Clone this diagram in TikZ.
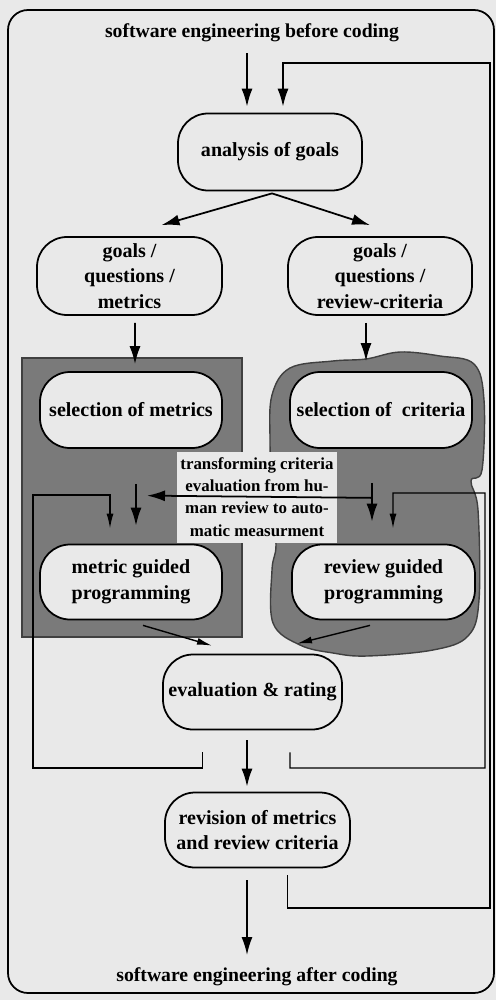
\documentclass[tikz,border=0pt]{standalone}
\usepackage{fontspec}
\setmainfont{Liberation Serif}
\usetikzlibrary{arrows.meta}
\definecolor{paper}{RGB}{233,233,233}

\begin{document}
\begin{tikzpicture}[
		x=0.2mm, y=-0.2mm,
		box/.style={rectangle, draw, line width=1pt, rounded corners=0.6cm, fill=paper, align=center, inner sep=2pt, font=\bfseries\fontsize{11.4}{14.6}\selectfont},
		plain/.style={align=center, font=\bfseries\fontsize{11.2}{14}\selectfont},
		note/.style={rectangle, fill=paper, align=center, inner sep=2pt, font=\bfseries\fontsize{9.6}{12.6}\selectfont},
		arr/.style={-{Latex[length=3.6mm,width=2.2mm]}, line width=1pt},
		thinarr/.style={-{Latex[length=3mm,width=1.4mm]}, line width=0.8pt},
		shade/.style={fill=black!52, draw=black!75, line width=0.8pt}
		]
		\useasboundingbox[fill=paper] (0,0) rectangle (496,1000);
		% outer frame
		\draw[line width=1pt, rounded corners=0.4cm] (8,10) rectangle (494,993);
		% dark zones behind the two branches
		\draw[shade] (22,358) rectangle (242,637);
		\draw[shade] plot[smooth cycle, tension=0.6] coordinates {(290,368) (333,361) (366,359) (400,352) (440,356) (474,364) (484,400) (482,470) (471,481) (478,510) (479,600) (468,636) (433,650) (367,656) (333,653) (300,645) (273,623) (272,570) (276,545) (272,500) (270,440) (272,395)};
		
		% Nodes
		\node[plain] (before) at (252,33) {software engineering before coding};
		\node[box, minimum width=3.68cm, minimum height=1.54cm] (analysis) at (270,152) {analysis of goals};
		\node[box, minimum width=3.7cm, minimum height=1.56cm] (gqm) at (129.5,276) {goals /\\questions /\\metrics};
		\node[box, minimum width=3.68cm, minimum height=1.56cm] (gqr) at (380,276) {goals /\\questions /\\review-criteria};
		\node[box, minimum width=3.64cm, minimum height=1.52cm] (selm) at (131,410) {selection of metrics};
		\node[box, minimum width=3.64cm, minimum height=1.52cm] (selc) at (381,410) {selection of~ criteria};
		\node[note, minimum width=3.18cm, minimum height=1.82cm] (trans) at (257,497) {transforming criteria\\evaluation from hu-\\man review to auto-\\matic measurment};
		\node[box, minimum width=3.64cm, minimum height=1.5cm] (mgp) at (131,582) {metric guided\\programming};
		\node[box, minimum width=3.66cm, minimum height=1.5cm] (rgp) at (383.5,582) {review guided\\programming};
		\node[box, minimum width=3.58cm, minimum height=1.5cm] (eval) at (252.5,692) {evaluation \& rating};
		\node[box, minimum width=3.7cm, minimum height=1.5cm] (rev) at (257.5,830) {revision of metrics\\and review criteria};
		\node[plain] (after) at (257,977) {software engineering after coding};
		
		% main flow
		\draw[arr] ([shift={(-5,20)}]before.center) -- ([shift={(-23,-6)}]analysis.north);
		\draw[arr] ([shift={(2,2)}]analysis.south) -- ([shift={(32,-11)}]gqm.north);
		\draw[arr] ([shift={(2,2)}]analysis.south) -- ([shift={(-10,-11)}]gqr.north);
		\draw[arr] ([shift={(5.5,7)}]gqm.south) -- ([shift={(4,-7)}]selm.north);
		\draw[arr] ([shift={(-14,7)}]gqr.south) -- ([shift={(-15,-10)}]selc.north);
		\draw[arr] ([shift={(5,35)}]selm.south) -- ([shift={(5,-18)}]mgp.north);
		\draw[arr] ([shift={(-9,34)}]selc.south) -- ([shift={(-11.5,-22)}]rgp.north);
		\draw[arr] ([shift={(-9,49)}]selc.south) -- ([shift={(16,-48)}]mgp.north);
		\draw[thinarr] ([shift={(12,5)}]mgp.south) -- ([shift={(-40.5,-8)}]eval.north);
		\draw[thinarr] ([shift={(-13.5,5)}]rgp.south) -- ([shift={(44.5,-10)}]eval.north);
		\draw[arr] ([shift={(-5.5,10)}]eval.south) -- ([shift={(-10.5,-5)}]rev.north);
		\draw[arr] ([shift={(-10.5,12)}]rev.south) -- ([shift={(-10,-22)}]after.center);
		
		% feedback loops
		\draw[thinarr] ([shift={(-50,22)}]eval.south) |- (33,768) |- (110,495) -- ([shift={(-21,-15)}]mgp.north);
		\draw[thinarr] ([shift={(37.5,22)}]eval.south) |- (485,768) |- (393,493) -- ([shift={(9.5,-15)}]rgp.north);
		\draw[arr] ([shift={(30,7)}]rev.south) |- (490,908) |- (283,63) -- ([shift={(13,-6)}]analysis.north);
	\end{tikzpicture}
\end{document}
